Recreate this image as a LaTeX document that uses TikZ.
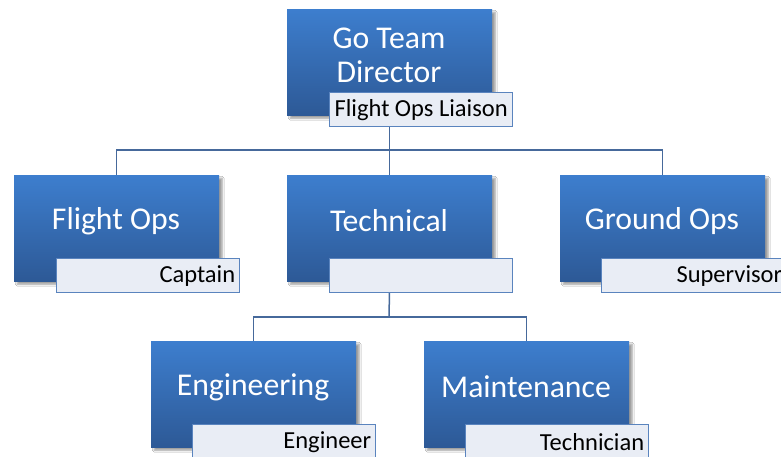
\documentclass[tikz,border=0pt]{standalone}
\usepackage{fontspec}
\setmainfont{Carlito}
\usetikzlibrary{shadows.blur,calc}
\definecolor{boxtop}{HTML}{3D7ECE}
\definecolor{boxbot}{HTML}{2D5996}
\definecolor{lblfill}{HTML}{E9EDF5}
\definecolor{lbldraw}{HTML}{5A84BE}
\definecolor{conncol}{HTML}{46699B}
\tikzset{
  mainbox/.style={rectangle, anchor=north west, minimum width=205pt, minimum height=106pt,
    top color=boxtop, bottom color=boxbot, draw=none, inner sep=0pt,
    blur shadow={shadow xshift=3pt, shadow yshift=-3pt, shadow blur steps=6, shadow opacity=40}},
  maintext/.style={text=white, align=center, font=\fontsize{31.7}{34}\selectfont, inner sep=0pt},
  lblbox/.style={rectangle, anchor=north west, minimum width=183pt, minimum height=34pt,
    fill=lblfill, draw=lbldraw, line width=1.4pt, inner sep=0pt},
  lbltext/.style={text=black, font=\fontsize{24.5}{27}\selectfont, inner sep=0pt, anchor=east},
  conn/.style={draw=conncol, line width=1.5pt}
}
\begin{document}
\begin{tikzpicture}[x=1pt,y=-1pt]
\useasboundingbox (0,0) rectangle (781,457);
\clip (0,0) rectangle (781,457);
\fill[white] (0,0) rectangle (781,457);
% coordinates of buses
\coordinate (bus1) at (389,150);
\coordinate (bus2) at (389,317);
% boxes
\node[mainbox] (gtd) at (287,9) {};
\node[mainbox] (fo) at (14,175) {};
\node[mainbox] (tech) at (287,175) {};
\node[mainbox] (go) at (560,175) {};
\node[mainbox] (eng) at (151,341) {};
\node[mainbox] (mnt) at (424,341) {};
% connectors
\draw[conn] (bus1) -| (fo.north);
\draw[conn] (bus1) -| (go.north);
\draw[conn] (gtd.south) -- (tech.north);
\draw[conn] (tech.south) -- (bus2);
\draw[conn] (bus2) -| (eng.north);
\draw[conn] (bus2) -| (mnt.north);
% main texts
\node[maintext] (gtdt) at (389,55) {Go Team\\Director};
\node[maintext] (fot) at (116,221) {Flight Ops};
\node[maintext] (techt) at (389,221) {Technical};
\node[maintext] (got) at (662,221) {Ground Ops};
\node[maintext] (engt) at (253,387) {Engineering};
\node[maintext] (mntt) at (526,387) {Maintenance};
% labels
\node[lblbox] (gtdl) at (329,92) {};
\node[lblbox] (fol) at (56,258) {};
\node[lblbox] (techl) at (329,258) {};
\node[lblbox] (gol) at (601,258) {};
\node[lblbox] (engl) at (192,424) {};
\node[lblbox] (mntl) at (465,424) {};
\node[lbltext, anchor=center] (gtdlt) at ($(gtdl.center)+(0,0)$) {Flight Ops Liaison};
\node[lbltext] (folt) at ($(fol.east)+(-5,0)$) {Captain};
\node[lbltext] (golt) at ($(gol.east)+(-3,0)$) {Supervisor};
\node[lbltext] (englt) at ($(engl.east)+(-5,0)$) {Engineer};
\node[lbltext] (mntlt) at ($(mntl.east)+(-5,0)$) {Technician};
\end{tikzpicture}
\end{document}
